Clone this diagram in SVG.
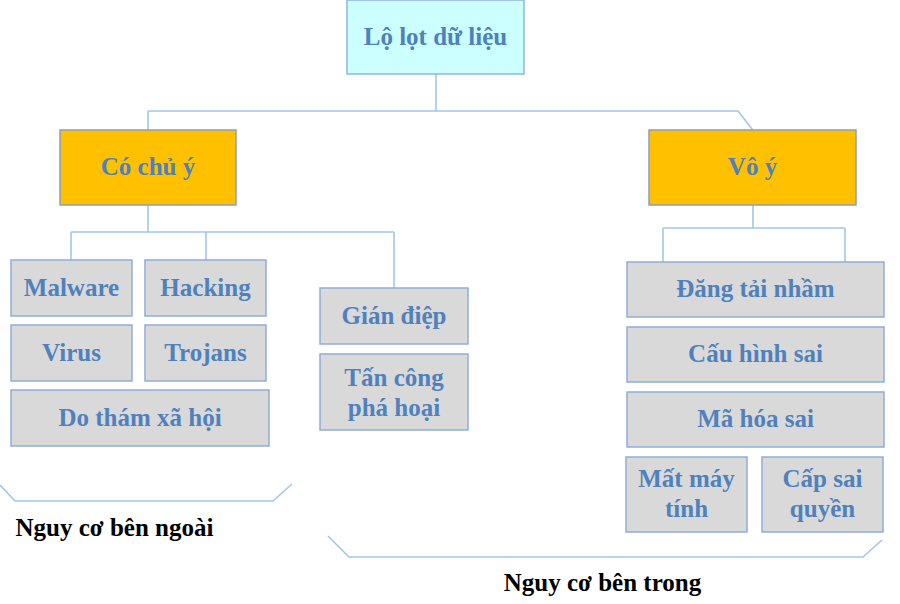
<svg xmlns="http://www.w3.org/2000/svg" width="900" height="604" viewBox="0 0 900 604">
<style>
.box{fill:#d9d9d9;stroke:#8eaed6;stroke-width:1.5}
.gold{fill:#ffc000;stroke:#8e9fb5;stroke-width:1.5}
.top{fill:#ccffff;stroke:#8eb4e3;stroke-width:1.5}
.t{font-family:"Liberation Serif","Times New Roman",serif;font-weight:bold;font-size:25px;fill:#4f81bd;text-anchor:middle}
.k{font-family:"Liberation Serif","Times New Roman",serif;font-weight:bold;font-size:25px;fill:#000;text-anchor:middle}
.c{fill:none;stroke:#a3c6e8;stroke-width:1.6}
</style>
<rect width="900" height="604" fill="#fff"/>
<g id="connectors">
<path class="c" d="M436 74V111M148 111H738L752 129V130M148 111V130"/>
<path class="c" d="M148 205V232M71 232H394M71 232V260M206 232V260M394 232V288"/>
<path class="c" d="M753 205V228M663 228H845M663 228V262M845 228V262"/>
<path class="c" d="M0 485L15 501H273L292 484"/>
<path class="c" d="M328 536L349 557H863L882 540"/>
</g>
<g id="root"><rect class="top" x="347" y="0" width="177" height="74"/><text class="t" x="435.5" y="45">Lộ lọt dữ liệu</text></g>
<g id="co-chu-y"><rect class="gold" x="60" y="130" width="176" height="75"/><text class="t" x="148" y="175">Có chủ ý</text></g>
<g id="vo-y"><rect class="gold" x="649" y="130" width="207" height="75"/><text class="t" x="752.5" y="175">Vô ý</text></g>
<g id="malware"><rect class="box" x="11" y="260" width="121" height="56"/><text class="t" x="71.5" y="296">Malware</text></g>
<g id="hacking"><rect class="box" x="145" y="260" width="121" height="56"/><text class="t" x="205.5" y="296">Hacking</text></g>
<g id="virus"><rect class="box" x="11" y="325" width="121" height="56"/><text class="t" x="71.5" y="361">Virus</text></g>
<g id="trojans"><rect class="box" x="145" y="325" width="121" height="56"/><text class="t" x="205.5" y="361">Trojans</text></g>
<g id="do-tham"><rect class="box" x="11" y="390" width="258" height="56"/><text class="t" x="140" y="426">Do thám xã hội</text></g>
<g id="gian-diep"><rect class="box" x="320" y="288" width="148" height="56"/><text class="t" x="394" y="324">Gián điệp</text></g>
<g id="tan-cong"><rect class="box" x="320" y="354" width="148" height="76"/><text class="t" x="394" y="386">Tấn công</text><text class="t" x="394" y="416">phá hoại</text></g>
<g id="dang-tai"><rect class="box" x="627" y="262" width="257" height="55"/><text class="t" x="755.5" y="297">Đăng tải nhầm</text></g>
<g id="cau-hinh"><rect class="box" x="627" y="327" width="257" height="55"/><text class="t" x="755.5" y="362">Cấu hình sai</text></g>
<g id="ma-hoa"><rect class="box" x="627" y="392" width="257" height="55"/><text class="t" x="755.5" y="427">Mã hóa sai</text></g>
<g id="mat-may"><rect class="box" x="626" y="457" width="121" height="75"/><text class="t" x="686.5" y="487">Mất máy</text><text class="t" x="686.5" y="517">tính</text></g>
<g id="cap-sai"><rect class="box" x="762" y="457" width="121" height="75"/><text class="t" x="822.5" y="487">Cấp sai</text><text class="t" x="822.5" y="517">quyền</text></g>
<g id="labels">
<text class="k" x="114.5" y="536">Nguy cơ bên ngoài</text>
<text class="k" x="602.5" y="591">Nguy cơ bên trong</text>
</g>
</svg>
